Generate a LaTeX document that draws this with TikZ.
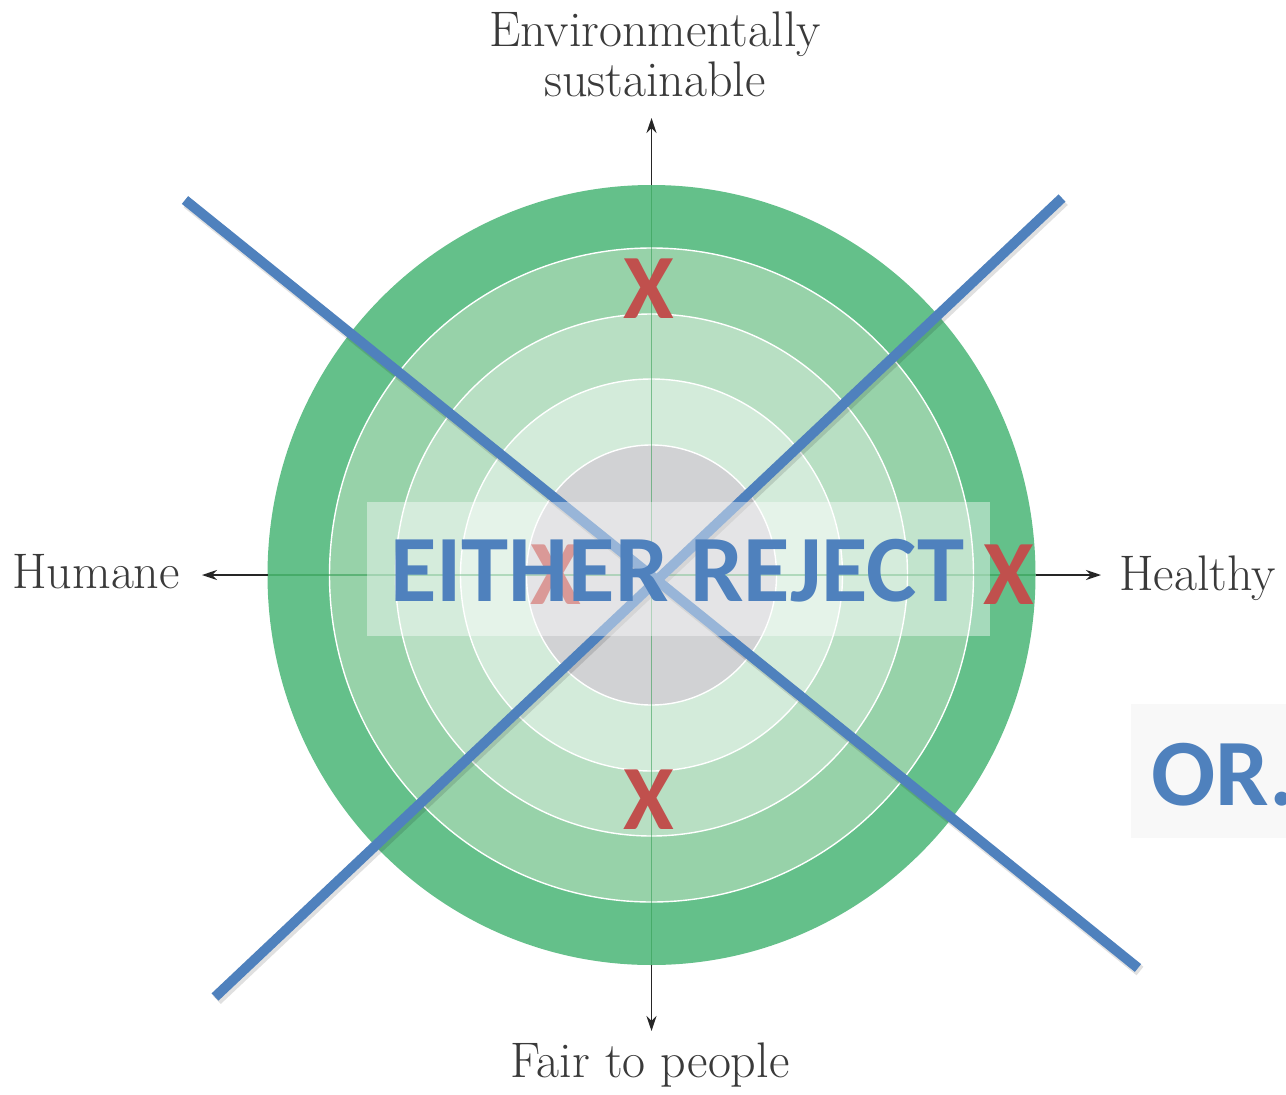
\documentclass[tikz,border=0pt]{standalone}
\usepackage{fontspec}
\newfontfamily\calibri{Carlito}
\usetikzlibrary{arrows.meta}
\definecolor{ringA}{HTML}{64C08A}
\definecolor{ringB}{HTML}{97D2A9}
\definecolor{ringC}{HTML}{B8DFC3}
\definecolor{ringD}{HTML}{D3EBDA}
\definecolor{coreG}{HTML}{D1D2D4}
\definecolor{axisG}{HTML}{2E9A4E}
\definecolor{slashB}{HTML}{4F81BD}
\definecolor{markR}{HTML}{C0504D}
\definecolor{labelK}{HTML}{3A3A3A}
\definecolor{orBox}{HTML}{F8F8F8}
\begin{document}
\begin{tikzpicture}[x=1pt,y=-1pt,
  ringline/.style={draw=white,line width=1.4pt},
  axisarrow/.style={draw=black!85,line width=1.5pt,-{Stealth[length=15pt,width=10pt]}},
  axlabel/.style={text=labelK,font=\fontsize{50}{50}\selectfont,inner sep=0pt},
  slash/.style={draw=slashB,line width=10pt},
  slashshadow/.style={draw=black,opacity=0.12,line width=11pt},
  bigword/.style={text=slashB,font=\calibri\bfseries\fontsize{95}{100}\selectfont,inner sep=0pt},
  xmark/.style={text=markR,font=\calibri\bfseries\fontsize{92}{100}\selectfont,inner sep=0pt}]
\useasboundingbox (0,0) rectangle (1286,1095);
\fill[white] (0,0) rectangle (1286,1095);

% concentric rings
\coordinate (c) at (651.5,575);
\fill[ringA] (c) ellipse [x radius=384, y radius=390];
\fill[ringB] (c) ellipse [x radius=322, y radius=327];
\draw[ringline] (c) ellipse [x radius=322, y radius=327];
\fill[ringC] (c) ellipse [x radius=256, y radius=261];
\draw[ringline] (c) ellipse [x radius=256, y radius=261];
\fill[ringD] (c) ellipse [x radius=191, y radius=196];
\draw[ringline] (c) ellipse [x radius=191, y radius=196];
\fill[coreG] (c) ellipse [x radius=125, y radius=130];
\draw[ringline] (c) ellipse [x radius=125, y radius=130];

% edge points of the outer ring
\coordinate (eT) at (651.5,185);
\coordinate (eB) at (651.5,965);
\coordinate (eL) at (267.5,575);
\coordinate (eR) at (1035.5,575);

% axes through the rings
\draw[axisG,opacity=0.55,line width=1.6pt] (eT) -- (eB);
\draw[axisG,opacity=0.55,line width=1.6pt] (eL) -- (eR);

% axis arrows and labels
\coordinate (tT) at (651.5,118);
\coordinate (tB) at (651.5,1031);
\coordinate (tL) at (202,575);
\coordinate (tR) at (1101,575);
\draw[axisarrow] (eT) -- (tT);
\draw[axisarrow] (eB) -- (tB);
\draw[axisarrow] (eL) -- (tL);
\draw[axisarrow] (eR) -- (tR);

\node[axlabel,anchor=base] (envLbl) at (655,46) {Environmentally};
\node[axlabel,anchor=base] (susLbl) at (655,96) {sustainable};
\node[axlabel,anchor=base west] (humLbl) at (12,588) {Humane};
\node[axlabel,anchor=base west] (heaLbl) at (1119,590) {Healthy};
\node[axlabel,anchor=base] (fairLbl) at (650,1077) {Fair to people};

% red mark lying under the panel
\node[xmark,anchor=base] (xLeft) at (556,604) {X};

% crossing strokes
\coordinate (s1a) at (185,200);
\coordinate (s1b) at (1138,968);
\coordinate (s2a) at (1062,198);
\coordinate (s2b) at (215,997);
\draw[slashshadow] ([shift={(2,3)}]s1a) -- ([shift={(2,3)}]s1b);
\draw[slashshadow] ([shift={(2,3)}]s2a) -- ([shift={(2,3)}]s2b);
\draw[slash] (s1a) -- (s1b);
\draw[slash] (s2a) -- (s2b);

% translucent panel with the heading
\fill[white,opacity=0.42] (367,502) rectangle (990,636);
\node[bigword,anchor=base west] (reject) at (390,601) {EITHER REJECT};

% red marks on top
\node[xmark,anchor=base] (xTop) at (649,318) {X};
\node[xmark,anchor=base] (xBot) at (649,829) {X};
\node[xmark,anchor=base] (xRight) at (1009,604) {X};

% side panel
\fill[orBox] (1131,704) rectangle (1286,838);
\node[bigword,anchor=base west] (orWord) at (1151,805) {OR.};
\end{tikzpicture}
\end{document}
